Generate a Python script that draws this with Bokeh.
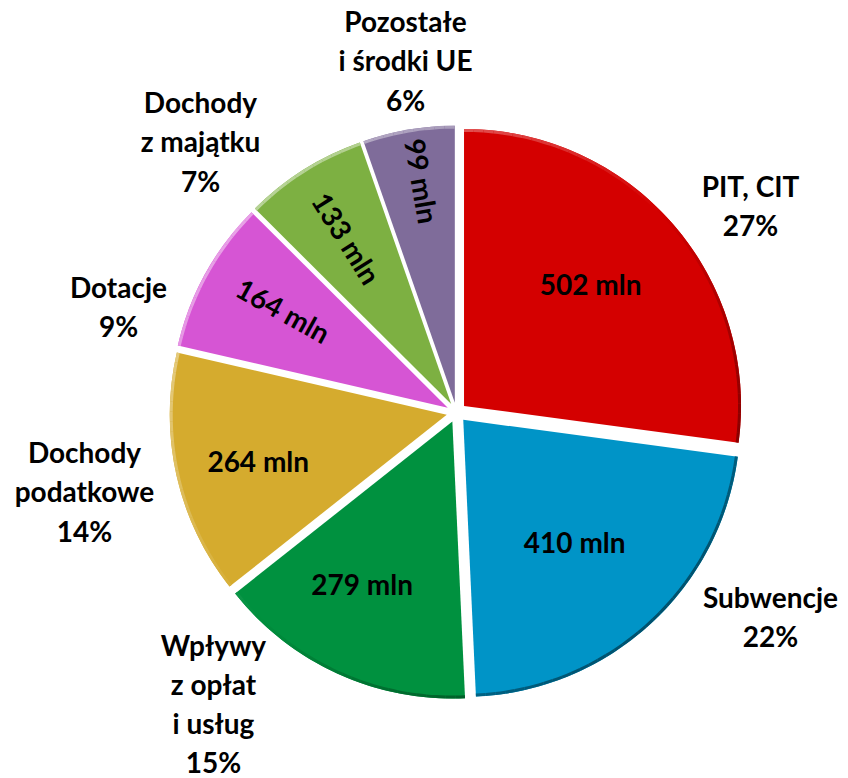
import math
from bokeh.plotting import figure
from bokeh.models import Range1d, ColumnDataSource
from bokeh.core.properties import value
from bokeh.embed import file_html
from bokeh.resources import INLINE

# ---- data ----
categories = ["PIT, CIT", "Subwencje", "Wpływy\nz opłat\ni usług", "Dochody\npodatkowe",
              "Dotacje", "Dochody\nz majątku", "Pozostałe\ni środki UE"]
amounts = [502, 410, 279, 264, 164, 133, 99]
value_labels = ["502 mln", "410 mln", "279 mln", "264 mln", "164 mln", "133 mln", "99 mln"]
percent_labels = ["27%", "22%", "15%", "14%", "9%", "7%", "6%"]
colors = ["#D40000", "#0094C7", "#00913F", "#D5AB2E", "#D655D4", "#7DB042", "#7F6C9A"]

# ---- layout constants ----
W, H = 848, 778
def px(x, y):  # screenshot pixel -> data coords
    return x, H - y
CX, CY = px(456, 412)
R = 277
EXPLODE = 10
inner_r = [176, 165, 186, 194, 191, 196, 224]
inner_da = [2.8, 0.0, -4.5, 1.0, -1.7, 0.0, -1.2]   # degrees nudge from bisector
rotate_inner = [False, False, False, False, True, True, True]
outer_pos = [(750, 205), (770, 616), (213, 703), (84, 491), (118, 306), (200, 141), (405, 60)]
FONT = "Lato"
FS = "28px"

p = figure(width=W, height=H, x_range=Range1d(0, W), y_range=Range1d(0, H),
           output_backend="svg", toolbar_location=None, min_border=0)
p.axis.visible = False
p.grid.visible = False
p.outline_line_color = None
p.background_fill_color = "white"

def hex2rgb(h):
    h = h.lstrip("#")
    return [int(h[i:i + 2], 16) for i in (0, 2, 4)]

def shade(h, s):
    r = hex2rgb(h)
    if s > 0:
        r = [c * (1 - 0.45 * s) for c in r]
    else:
        r = [c + (255 - c) * 0.45 * (-s) for c in r]
    return "#%02x%02x%02x" % tuple(int(max(0, min(255, c))) for c in r)

total = sum(amounts)
start = math.pi / 2
xs, ys, sa, ea = [], [], [], []
lx, ly, la = [], [], []
rx, ry, rs, re_, rc = [], [], [], [], []
for i, a in enumerate(amounts):
    sweep = 2 * math.pi * a / total
    end = start - sweep
    mid = (start + end) / 2
    ax = CX + EXPLODE * math.cos(mid)
    ay = CY + EXPLODE * math.sin(mid)
    xs.append(ax); ys.append(ay); sa.append(start); ea.append(end)
    lm = mid + math.radians(inner_da[i])
    lx.append(ax + inner_r[i] * math.cos(lm))
    ly.append(ay + inner_r[i] * math.sin(lm))
    la.append(mid - math.pi if rotate_inner[i] else 0.0)
    # rim bevel segments
    nseg = max(2, int(math.degrees(sweep) / 2))
    for k in range(nseg):
        s0 = start - sweep * k / nseg
        s1 = start - sweep * (k + 1) / nseg
        th = (s0 + s1) / 2
        s = math.cos(th + math.pi / 4)  # +1 toward lower right
        rx.append(ax); ry.append(ay); rs.append(s0); re_.append(s1)
        rc.append(shade(colors[i], s))
    start = end

src = ColumnDataSource(dict(x=xs, y=ys, start=sa, end=ea, color=colors))
p.wedge(x="x", y="y", radius=R, start_angle="start", end_angle="end",
        direction="clock", fill_color="color", line_color=None, source=src)

rsrc = ColumnDataSource(dict(x=rx, y=ry, s=rs, e=re_, c=rc))
p.arc(x="x", y="y", radius=R - 1.5, start_angle="s", end_angle="e", direction="clock",
      line_color="c", line_width=3, source=rsrc)

isrc = ColumnDataSource(dict(x=lx, y=ly, t=value_labels, a=la))
p.text(x="x", y="y", text="t", angle="a", source=isrc, text_font=value(FONT),
       text_font_style="bold", text_font_size=FS, text_align="center",
       text_baseline="middle", text_color="black")

ox = [px(*q)[0] for q in outer_pos]
oy = [px(*q)[1] for q in outer_pos]
otext = [c + "\n" + pc for c, pc in zip(categories, percent_labels)]
osrc = ColumnDataSource(dict(x=ox, y=oy, t=otext))
p.text(x="x", y="y", text="t", source=osrc, text_font=value(FONT),
       text_font_style="bold", text_font_size=FS, text_align="center",
       text_baseline="middle", text_color="black", text_line_height=1.15)

open("out.html", "w").write(file_html(p, INLINE))
